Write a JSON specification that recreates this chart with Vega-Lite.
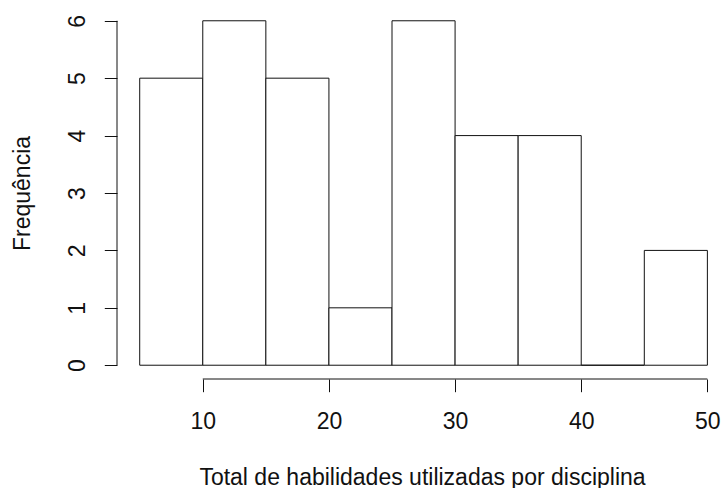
{
  "$schema": "https://vega.github.io/schema/vega-lite/v6.json",
  "width": 604,
  "height": 372,
  "autosize": {"type": "none"},
  "padding": {"left": 117, "top": 7, "right": 0, "bottom": 109},
  "background": "white",
  "config": {
    "view": {"stroke": null},
    "font": "Liberation Sans",
    "axis": {
      "grid": false,
      "domain": false,
      "ticks": true,
      "tickColor": "#111",
      "tickWidth": 1,
      "tickSize": 12.7,
      "labelFont": "Liberation Sans",
      "labelFontSize": 23,
      "labelColor": "#111",
      "titleFont": "Liberation Sans",
      "titleFontSize": 23,
      "titleFontWeight": "normal",
      "titleColor": "#111"
    }
  },
  "layer": [
    {
      "data": {
        "values": [
          {"start": 5, "end": 10, "count": 5},
          {"start": 10, "end": 15, "count": 6},
          {"start": 15, "end": 20, "count": 5},
          {"start": 20, "end": 25, "count": 1},
          {"start": 25, "end": 30, "count": 6},
          {"start": 30, "end": 35, "count": 4},
          {"start": 35, "end": 40, "count": 4},
          {"start": 40, "end": 45, "count": 0},
          {"start": 45, "end": 50, "count": 2}
        ]
      },
      "mark": {"type": "rect", "fill": "white", "stroke": "#111", "strokeWidth": 1},
      "encoding": {
        "x": {
          "field": "start",
          "type": "quantitative",
          "scale": {"domain": [3.2, 51.08], "nice": false, "zero": false},
          "axis": {
            "values": [10, 20, 30, 40, 50],
            "format": "d",
            "title": "Total de habilidades utilizadas por disciplina",
            "labelBaseline": "alphabetic",
            "labelPadding": 36.6,
            "labelFlush": false,
            "labelOverlap": false,
            "titleBaseline": "alphabetic",
            "titleY": 105,
            "titleX": 305
          }
        },
        "x2": {"field": "end"},
        "y": {
          "field": "count",
          "type": "quantitative",
          "scale": {"domain": [-0.24, 6.24], "nice": false, "zero": false},
          "axis": {
            "values": [0, 1, 2, 3, 4, 5, 6],
            "format": "d",
            "title": "Frequência",
            "labelAngle": -90,
            "labelAlign": "center",
            "labelBaseline": "alphabetic",
            "labelPadding": 20.3,
            "labelFlush": false,
            "labelOverlap": false,
            "titleAngle": -90,
            "titleBaseline": "alphabetic",
            "titleX": -87.2
          }
        },
        "y2": {"datum": 0}
      }
    },
    {
      "data": {"values": [{"lo": 10, "hi": 50}]},
      "mark": {"type": "rule", "color": "#111", "strokeWidth": 1},
      "encoding": {
        "x": {"field": "lo", "type": "quantitative"},
        "x2": {"field": "hi"},
        "y": {"datum": -0.24, "type": "quantitative"}
      }
    },
    {
      "data": {"values": [{"lo": 0, "hi": 6}]},
      "mark": {"type": "rule", "color": "#111", "strokeWidth": 1},
      "encoding": {
        "y": {"field": "lo", "type": "quantitative"},
        "y2": {"field": "hi"},
        "x": {"datum": 3.2, "type": "quantitative"}
      }
    }
  ]
}
